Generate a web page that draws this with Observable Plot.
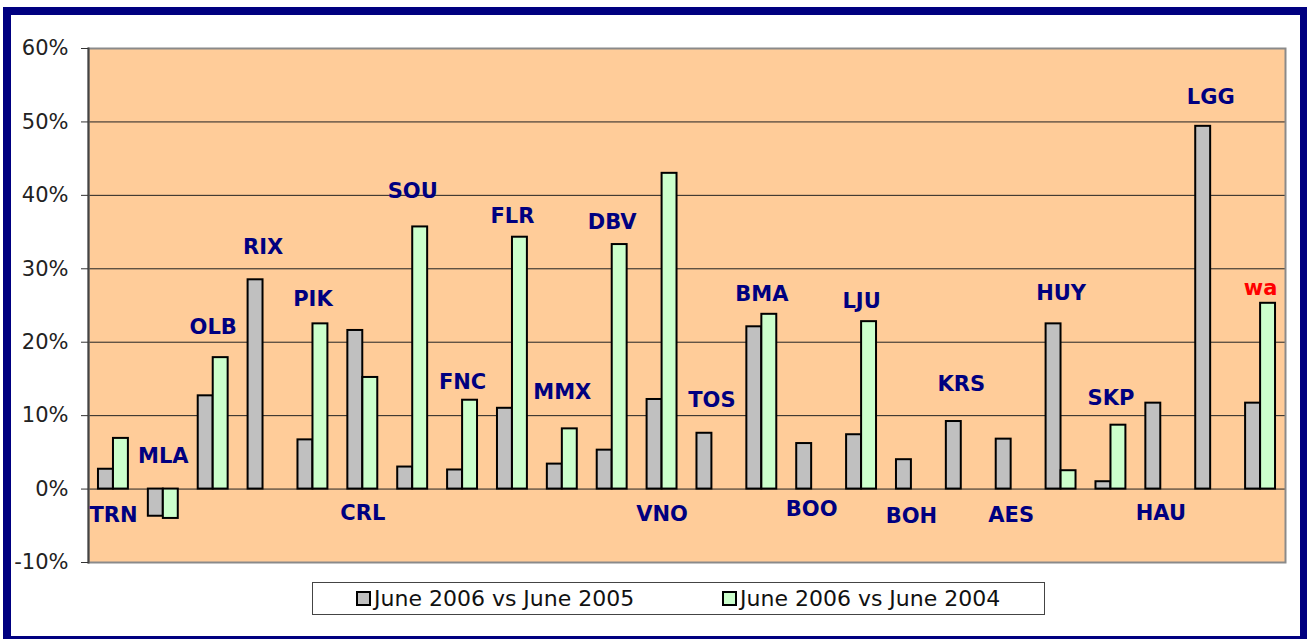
<!DOCTYPE html>
<html>
<head>
<meta charset="utf-8">
<script src="https://cdn.jsdelivr.net/npm/d3@7"></script>
<script src="https://cdn.jsdelivr.net/npm/@observablehq/plot@0.6"></script>
<style>
  html, body { margin: 0; padding: 0; background: #fff; }
  #frame {
    position: absolute; left: 3px; top: 7px;
    width: 1304px; height: 632px; box-sizing: border-box;
    border-style: solid; border-color: #000080;
    border-width: 8px 7px 3px 8px; background: #fff;
  }
  #chart { position: absolute; left: 0; top: 0; }
  #legend {
    position: absolute; left: 301px; top: 567px;
    width: 733px; height: 33px; box-sizing: border-box;
    border: 1px solid #444; background: #fff;
    font-family: "DejaVu Sans", sans-serif; font-size: 22px; color: #111;
  }
  .item { position: absolute; top: 0; height: 31px; display: flex; align-items: center; white-space: nowrap; }
  .sw { width: 11px; height: 11px; border: 2px solid #000; margin-right: 3px; }
</style>
</head>
<body>
<div id="frame">
  <div id="chart"></div>
  <div id="legend"></div>
</div>
<script>
// Airport codes (categories)
const codes = ["TRN","MLA","OLB","RIX","PIK","CRL","SOU","FNC","FLR","MMX","DBV","VNO",
               "TOS","BMA","BOO","LJU","BOH","KRS","AES","HUY","SKP","HAU","LGG","wa"];
// June 2006 vs June 2005 (%)
const vs2005 = [2.7,-3.7,12.7,28.5,6.7,21.6,3.0,2.6,11.0,3.4,5.3,12.2,
                7.6,22.1,6.2,7.4,4.0,9.2,6.8,22.5,1.0,11.7,49.4,11.7];
// June 2006 vs June 2004 (%)
const vs2004 = [6.9,-4.0,17.9,null,22.5,15.2,35.7,12.1,34.3,8.2,33.3,43.0,
                null,23.8,null,22.8,null,null,null,2.5,8.7,null,null,25.3];
// Value (%) at which each code label sits
const labelAt = [-3.5,4.5,22.0,32.9,25.9,-3.3,40.5,14.5,37.2,13.2,36.4,-3.4,
                 12.1,26.5,-2.7,25.6,-3.7,14.3,-3.5,26.7,12.4,-3.3,53.3,27.4];
const yTicks = [-10,0,10,20,30,40,50,60];
const seriesNames = ["June 2006 vs June 2005","June 2006 vs June 2004"];
const seriesColors = ["#C0C0C0","#CCFFCC"];

const rows = codes.map((c, i) => ({code: c, a: vs2005[i], b: vs2004[i], at: labelAt[i]}));

const plot = Plot.plot({
  width: 1289,
  height: 560,
  marginLeft: 77,
  marginTop: 33,
  marginRight: 15,
  marginBottom: 13,
  style: {fontFamily: "DejaVu Sans, sans-serif", fontSize: "21px", color: "#222", background: "transparent", overflow: "visible"},
  x: {type: "band", domain: codes, paddingInner: 0.4, paddingOuter: 0.2, round: false, axis: null},
  y: {domain: [-10, 60], axis: null},
  marks: [
    Plot.frame({fill: "#FFCC99", stroke: "none"}),
    Plot.ruleY([0,10,20,30,40,50], {stroke: "#222", strokeWidth: 1}),
    Plot.barY(rows.filter(d => d.a != null), {x: "code", y: "a", fill: seriesColors[0], stroke: "#000", strokeWidth: 2, insetRight: 15}),
    Plot.barY(rows.filter(d => d.b != null), {x: "code", y: "b", fill: seriesColors[1], stroke: "#000", strokeWidth: 2, insetLeft: 15}),
    Plot.frame({stroke: "#8a8a8a", strokeWidth: 2, fill: "none"}),
    Plot.frame({anchor: "left", stroke: "#444", strokeWidth: 2}),
    Plot.axisY({ticks: yTicks, tickSize: 7, tickPadding: 13, tickFormat: d => d + "%", fontSize: 21, stroke: "#333", fill: "#222"}),
    Plot.text(rows.filter(d => d.code !== "wa"), {x: "code", y: "at", text: "code", fill: "#000080", fontWeight: "bold", fontSize: 21, fontFamily: "DejaVu Sans, sans-serif"}),
    Plot.text(rows.filter(d => d.code === "wa"), {x: "code", y: "at", text: "code", fill: "#FF0000", fontWeight: "bold", fontSize: 21, fontFamily: "DejaVu Sans, sans-serif"})
  ]
});
document.getElementById("chart").appendChild(plot);

const legend = document.getElementById("legend");
const lefts = [43, 409];
seriesNames.forEach((name, i) => {
  const it = document.createElement("div");
  it.className = "item";
  it.style.left = lefts[i] + "px";
  const sw = document.createElement("div");
  sw.className = "sw";
  sw.style.background = seriesColors[i];
  const tx = document.createElement("span");
  tx.textContent = name;
  it.appendChild(sw);
  it.appendChild(tx);
  legend.appendChild(it);
});
</script>
</body>
</html>
